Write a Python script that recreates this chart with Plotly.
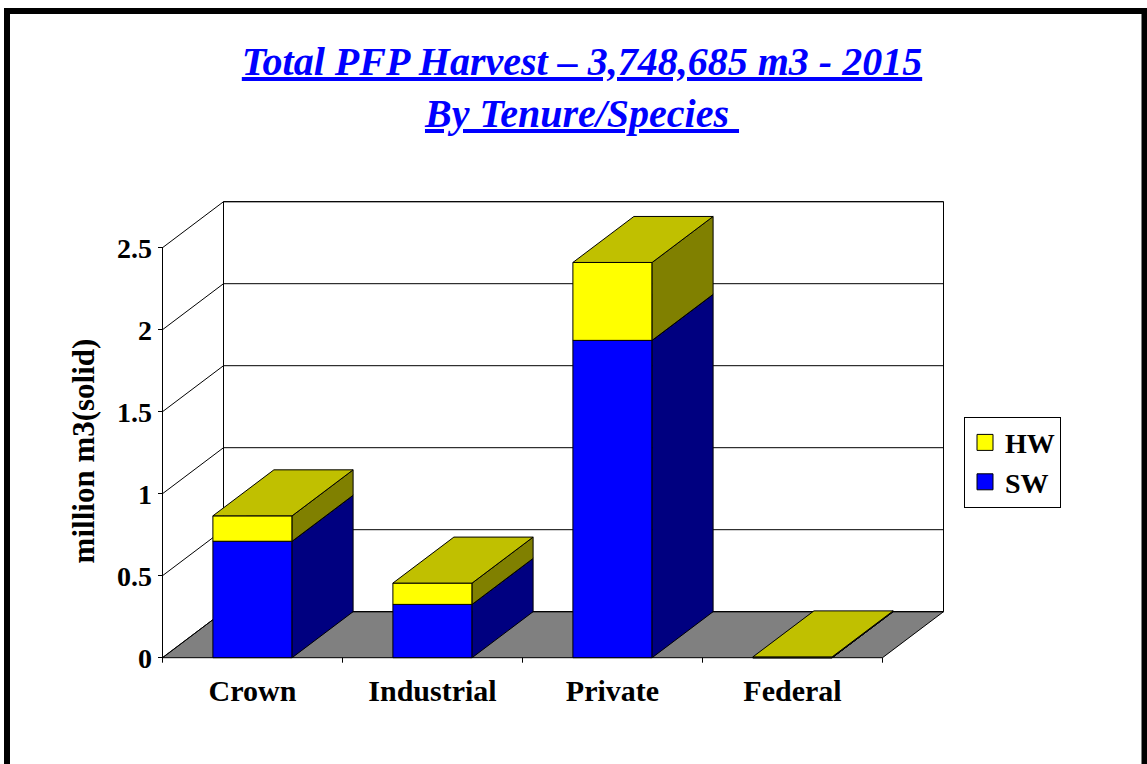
import plotly.graph_objects as go

# ---------------- data ----------------
categories = ["Crown", "Industrial", "Private", "Federal"]
sw_values = [0.71, 0.325, 1.935, 0.0]      # million m3 (solid), softwood
hw_values = [0.155, 0.13, 0.475, 0.005]    # million m3 (solid), hardwood
y_ticks = [0, 0.5, 1, 1.5, 2, 2.5]

# ---------------- geometry / style ----------------
W, H = 1147, 764
X0_PX, Y0_PX = 162.5, 657.7          # pixel of front-plane origin
TOP_PX = 138.0                       # top pixel of y-axis domain
PX_PER_CAT, PX_PER_UNIT = 180.0, 164.0
DX = 61.0 / PX_PER_CAT                # oblique depth offset (data units)
DY = 46.0 / PX_PER_UNIT
BAR_W = 0.44
YMAX = y_ticks[-1]
n = len(categories)

FONT = "Liberation Serif, Times New Roman, serif"
SW_COL = dict(front="#0000FF", side="#000080", top="#0000C0")
HW_COL = dict(front="#FFFF00", side="#808000", top="#C0C000")

x_range = [-X0_PX / PX_PER_CAT, (W - X0_PX) / PX_PER_CAT]
y_range = [-(H - Y0_PX) / PX_PER_UNIT, (Y0_PX - TOP_PX) / PX_PER_UNIT]


def poly_trace(polys, fill):
    xs, ys = [], []
    for p in polys:
        for (x, y) in p + [p[0]]:
            xs.append(x)
            ys.append(y)
        xs.append(None)
        ys.append(None)
    return go.Scatter(x=xs, y=ys, mode="lines", fill="toself", fillcolor=fill,
                      line=dict(color="black", width=1), hoverinfo="skip",
                      showlegend=False)


def line_trace(segs, width=1):
    xs, ys = [], []
    for s in segs:
        for (x, y) in s:
            xs.append(x)
            ys.append(y)
        xs.append(None)
        ys.append(None)
    return go.Scatter(x=xs, y=ys, mode="lines", line=dict(color="black", width=width),
                      hoverinfo="skip", showlegend=False)


def faces(i, b, t):
    x0 = i + 0.5 - BAR_W / 2
    x1 = x0 + BAR_W
    front = [(x0, b), (x1, b), (x1, t), (x0, t)]
    side = [(x1, b), (x1 + DX, b + DY), (x1 + DX, t + DY), (x1, t)]
    top = [(x0, t), (x1, t), (x1 + DX, t + DY), (x0 + DX, t + DY)]
    return front, side, top


fig = go.Figure()

# back wall
fig.add_trace(poly_trace([[(DX, DY), (n + DX, DY), (n + DX, YMAX + DY), (DX, YMAX + DY)]], "white"))
# floor
fig.add_trace(poly_trace([[(0, 0), (n, 0), (n + DX, DY), (DX, DY)]], "#808080"))
# gridlines on left wall and back wall, front value axis
grid = [[(0, v), (DX, v + DY), (n + DX, v + DY)] for v in y_ticks]
grid.append([(0, 0), (0, YMAX)])
fig.add_trace(line_trace(grid))
# category tick marks
fig.add_trace(line_trace([[(k, 0), (k, -5 / PX_PER_UNIT)] for k in range(n + 1)]))

# bars (SW below, HW stacked on top)
for vals_b, vals_t, cols in [
    ([0] * n, sw_values, SW_COL),
    (sw_values, [s + h for s, h in zip(sw_values, hw_values)], HW_COL),
]:
    fr, sd, tp = [], [], []
    for i in range(n):
        f, s, t = faces(i, vals_b[i], vals_t[i])
        fr.append(f)
        sd.append(s)
        tp.append(t)
    fig.add_trace(poly_trace(fr, cols["front"]))
    fig.add_trace(poly_trace(sd, cols["side"]))
    fig.add_trace(poly_trace(tp, cols["top"]))

# legend entries
for name, col in [("HW", HW_COL["front"]), ("SW", SW_COL["front"])]:
    fig.add_trace(go.Scatter(x=[None], y=[None], mode="markers", name=name,
                             marker=dict(symbol="square", size=16, color=col,
                                         line=dict(color="black", width=1))))

title_txt = ("<b><i><u>Total PFP Harvest – 3,748,685 m3 - 2015</u></i></b><br>"
             "<b><i><u>By Tenure/Species\u00a0</u></i></b>")

fig.update_layout(
    width=W, height=H,
    margin=dict(l=0, r=0, t=0, b=0),
    paper_bgcolor="white", plot_bgcolor="white",
    title=dict(text=title_txt, x=582 / W, xanchor="center", y=1 - 75 / H, yanchor="top",
               font=dict(family=FONT, size=40, color="#0000FF")),
    xaxis=dict(range=x_range, domain=[0, 1], anchor="free", position=(H - Y0_PX) / H,
               tickmode="array", tickvals=[i + 0.5 for i in range(n)],
               ticktext=categories,
               ticks="", showgrid=False, zeroline=False, showline=False,
               ticklabelstandoff=12,
               tickfont=dict(family=FONT, size=30, color="black", weight="bold")),
    yaxis=dict(range=y_range, domain=[0, 1 - TOP_PX / H], anchor="free", position=X0_PX / W,
               tickmode="array", tickvals=y_ticks, ticks="outside", ticklen=5,
               tickcolor="black", tickwidth=1,
               showgrid=False, zeroline=False, showline=False,
               tickfont=dict(family=FONT, size=28, color="black", weight="bold"),
               title=dict(text="million m3(solid)", standoff=12,
                          font=dict(family=FONT, size=31, color="black", weight="bold"))),
    showlegend=True,
    legend=dict(x=964 / W, y=1 - 416.7 / H, xanchor="left", yanchor="top",
                bgcolor="white", bordercolor="black", borderwidth=1,
                font=dict(family=FONT, size=28, color="black", weight="bold"),
                tracegroupgap=0, itemwidth=30),
    shapes=[dict(type="rect", xref="paper", yref="paper",
                 x0=7 / W, x1=1144.5 / W, y0=-0.05, y1=1 - 11 / H,
                 line=dict(color="black", width=6), fillcolor="rgba(0,0,0,0)")],
)

fig.write_html("out.html", config={"displayModeBar": False},
               post_script="document.body.style.margin='0';document.body.style.overflow='hidden';")
